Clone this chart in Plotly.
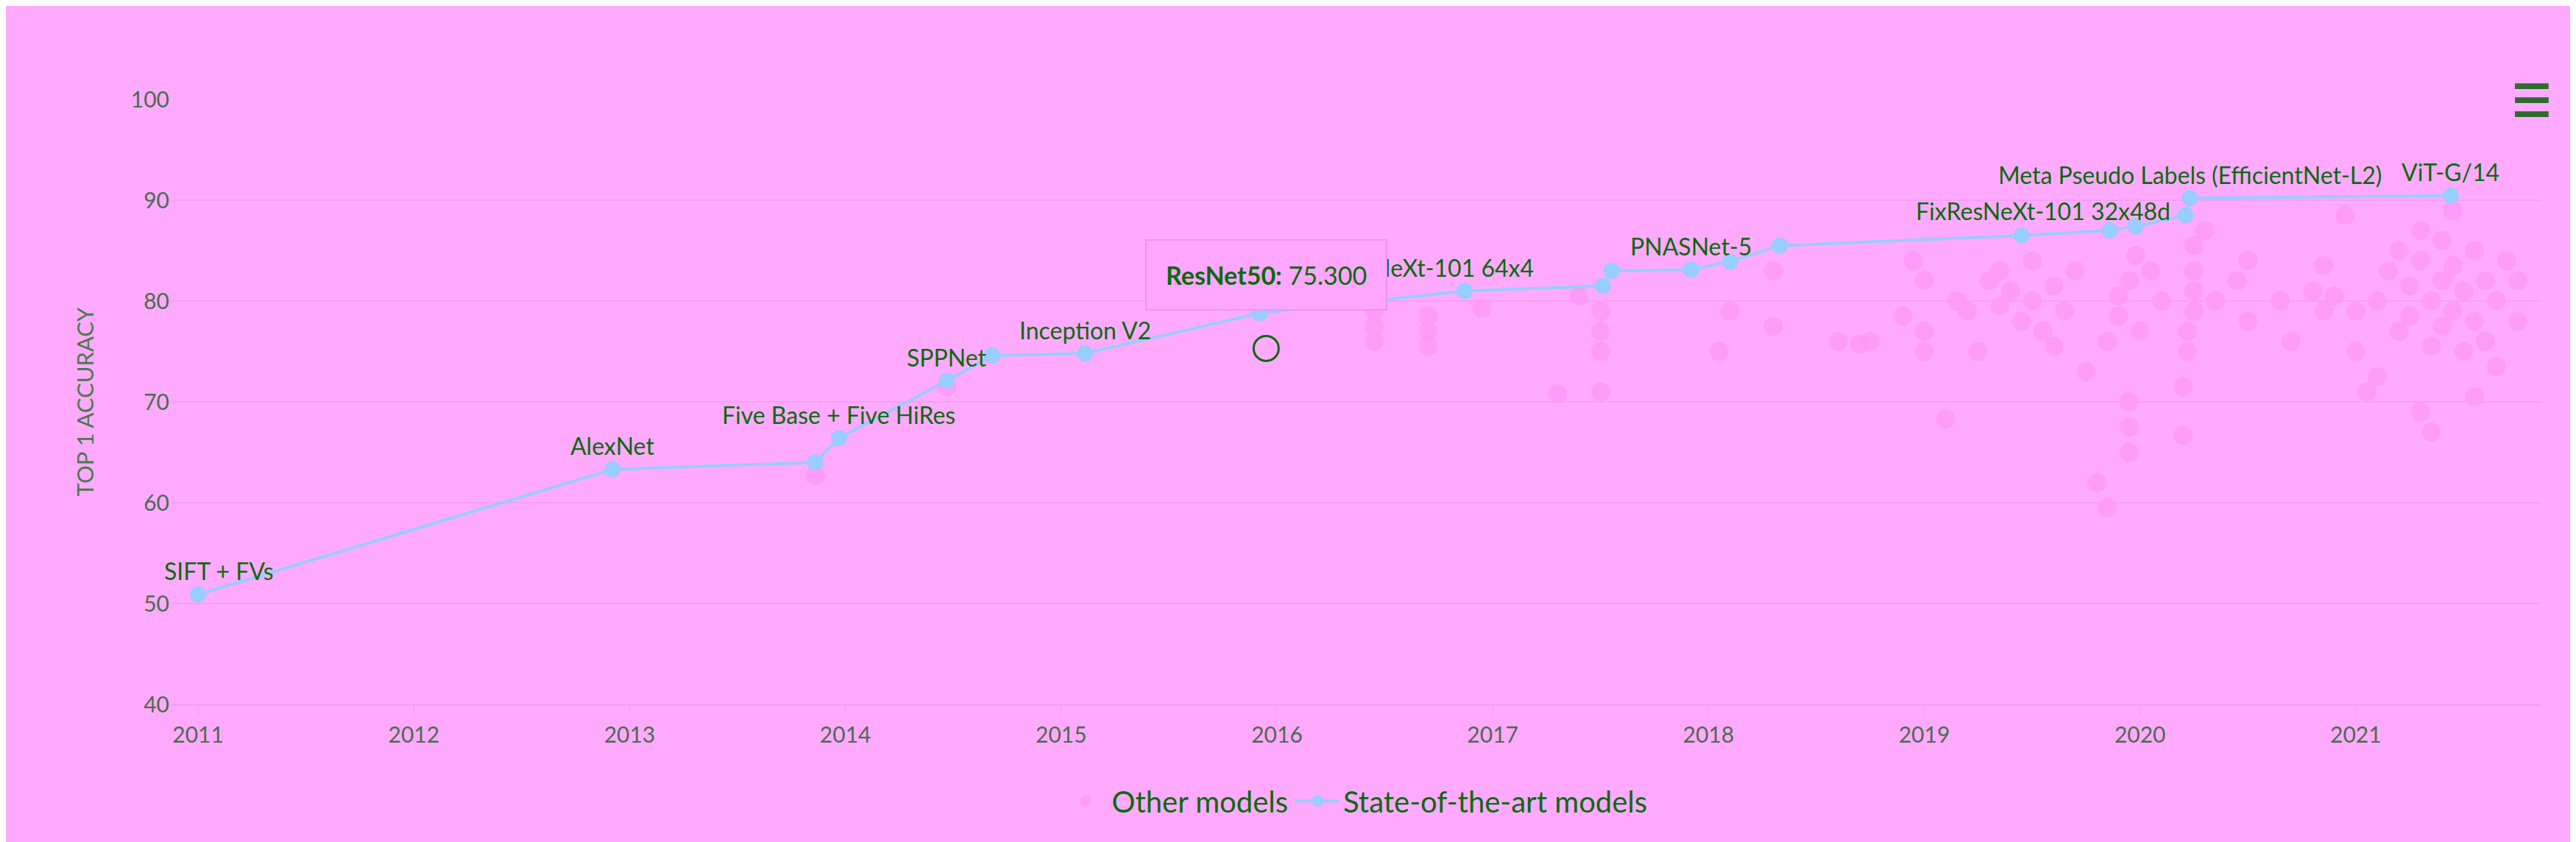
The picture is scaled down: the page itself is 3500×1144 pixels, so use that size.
import plotly.graph_objects as go

# State-of-the-art models (year, top-1 accuracy)
sota_year = [2011.0, 2012.92, 2013.86, 2013.97, 2014.47, 2014.68, 2015.11, 2015.92,
             2016.87, 2017.51, 2017.55, 2017.92, 2018.10, 2018.33, 2019.45, 2019.86,
             2019.98, 2020.21, 2020.23, 2021.44]
sota_acc = [50.9, 63.3, 64.0, 66.4, 72.1, 74.6, 74.8, 78.8,
            81.0, 81.5, 83.0, 83.1, 83.9, 85.5, 86.5, 87.0,
            87.4, 88.5, 90.2, 90.45]

# labels shown on the chart
label_names = ["SIFT + FVs", "AlexNet", "Five Base + Five HiRes", "SPPNet", "Inception V2",
               "ResNeXt-101 64x4", "PNASNet-5", "FixResNeXt-101 32x48d",
               "Meta Pseudo Labels (EfficientNet-L2)", "ViT-G/14"]
label_year = [2011.0, 2012.92, 2013.97, 2014.47, 2015.11, 2016.87, 2017.92, 2020.21, 2020.23, 2021.44]
label_acc = [50.9, 63.3, 66.4, 72.1, 74.8, 81.0, 83.1, 88.5, 90.2, 90.45]

# Other models
other_year = [2013.86, 2014.47, 2016.45, 2016.45, 2016.45, 2016.7, 2016.7, 2016.7, 2016.95,
              2017.3, 2017.5, 2017.5, 2017.5, 2017.5, 2017.4,
              2018.05, 2018.1, 2018.3, 2018.3, 2018.6, 2018.7, 2018.75,
              2018.9, 2018.95, 2019.0, 2019.0, 2019.0,
              2019.1, 2019.15, 2019.2, 2019.25, 2019.3, 2019.35, 2019.35, 2019.4, 2019.45, 2019.5,
              2019.5, 2019.55, 2019.6, 2019.6, 2019.65, 2019.7,
              2019.75, 2019.8, 2019.85, 2019.85, 2019.9, 2019.9, 2019.95, 2019.95, 2019.95, 2019.95,
              2019.98, 2020.0, 2020.05, 2020.1,
              2020.2, 2020.2, 2020.22, 2020.22, 2020.25, 2020.25, 2020.25, 2020.25, 2020.3, 2020.35,
              2020.45, 2020.5, 2020.5,
              2020.65, 2020.7, 2020.8, 2020.85, 2020.85, 2020.9, 2020.95, 2021.0, 2021.0,
              2021.05, 2021.1, 2021.1, 2021.15, 2021.2, 2021.2, 2021.25, 2021.25, 2021.3, 2021.3,
              2021.3, 2021.35, 2021.35, 2021.35, 2021.4, 2021.4, 2021.4, 2021.45, 2021.45, 2021.45,
              2021.5, 2021.5, 2021.55, 2021.55, 2021.55, 2021.6, 2021.6, 2021.65, 2021.65, 2021.7,
              2021.75, 2021.75]
other_acc = [62.7, 71.5, 76.0, 77.5, 79.0, 75.5, 77.0, 78.5, 79.3,
             70.8, 71.0, 75.0, 77.0, 79.0, 80.5,
             75.0, 79.0, 77.5, 83.0, 76.0, 75.7, 76.0,
             78.5, 84.0, 75.0, 77.0, 82.0,
             68.3, 80.0, 79.0, 75.0, 82.0, 83.0, 79.5, 81.0, 78.0, 80.0,
             84.0, 77.0, 75.5, 81.5, 79.0, 83.0,
             73.0, 62.0, 59.5, 76.0, 78.5, 80.5, 65.0, 67.5, 70.0, 82.0,
             84.5, 77.0, 83.0, 80.0,
             66.7, 71.5, 75.0, 77.0, 79.0, 81.0, 83.0, 85.5, 87.0, 80.0,
             82.0, 84.0, 78.0,
             80.0, 76.0, 81.0, 79.0, 83.5, 80.5, 88.5, 75.0, 79.0,
             71.0, 72.5, 80.0, 83.0, 77.0, 85.0, 78.5, 81.5, 69.0, 84.0,
             87.0, 67.0, 75.5, 80.0, 82.0, 77.5, 86.0, 79.0, 83.5, 89.0,
             75.0, 81.0, 70.5, 78.0, 85.0, 76.0, 82.0, 80.0, 73.5, 84.0,
             78.0, 82.0]

TEXT = "#0a6a0a"
BG = "#ffaaff"

# per-label placement: (xanchor, xshift, yshift)
placement = {
    "SIFT + FVs": ("center", 28, 32),
    "ResNeXt-101 64x4": ("center", -40, 32),
    "PNASNet-5": ("center", 0, 32),
    "FixResNeXt-101 32x48d": ("right", -18, 6),
}

fig = go.Figure()
fig.add_trace(go.Scatter(
    x=other_year, y=other_acc, mode="markers", name="Other models",
    marker=dict(size=26, color="#ff99f7", opacity=0.85),
))
fig.add_trace(go.Scatter(
    x=sota_year, y=sota_acc, mode="lines+markers", name="State-of-the-art models",
    line=dict(color="#99ccff", width=4),
    marker=dict(size=22, color="#99ccff"),
))

for name, x, y in zip(label_names, label_year, label_acc):
    xa, dx, dy = placement.get(name, ("center", 0, 32))
    fig.add_annotation(x=x, y=y, text=name, showarrow=False, xanchor=xa, xshift=dx, yshift=dy,
                       font=dict(size=32, color=TEXT))

# hovered point + tooltip
fig.add_trace(go.Scatter(
    x=[2015.95], y=[75.3], mode="markers", showlegend=False,
    marker=dict(size=34, color="rgba(0,0,0,0)", line=dict(color=TEXT, width=3)),
))
fig.add_annotation(x=2015.95, y=75.3, text="<b>ResNet50:</b> 75.300", showarrow=False,
                   yshift=100, font=dict(size=34, color=TEXT),
                   bgcolor="#ffa6ff", bordercolor="#f390f3", borderwidth=2, borderpad=26)

fig.add_annotation(xref="paper", yref="paper", x=1.005, y=1.0, text="<b>☰</b>", showarrow=False,
                   font=dict(size=60, color="#2e6b2e"), xanchor="right", yanchor="middle")

fig.update_layout(
    width=3500, height=1144,
    paper_bgcolor=BG, plot_bgcolor=BG,
    font=dict(family="Lato", size=30, color="#4d6b4d"),
    margin=dict(l=223, r=55, t=127, b=195),
    xaxis=dict(range=[2010.87, 2021.86], tickvals=list(range(2011, 2022)), showgrid=False,
               zeroline=False, showline=True, linecolor="#f59af5", linewidth=2,
               ticks="outside", tickcolor="#f59af5", ticklen=14, tickfont=dict(size=30)),
    yaxis=dict(range=[40, 100], dtick=10, gridcolor="#f79ff7", gridwidth=2, zeroline=False,
               title=dict(text="TOP 1 ACCURACY", font=dict(size=31, color="#4d7a4d"),
                          standoff=40),
               tickfont=dict(size=30)),
    legend=dict(orientation="h", x=0.5, xanchor="center", y=-0.12, yanchor="top",
                font=dict(size=40, color=TEXT), bgcolor="rgba(0,0,0,0)", itemwidth=60),
)

fig.write_html("out.html")
